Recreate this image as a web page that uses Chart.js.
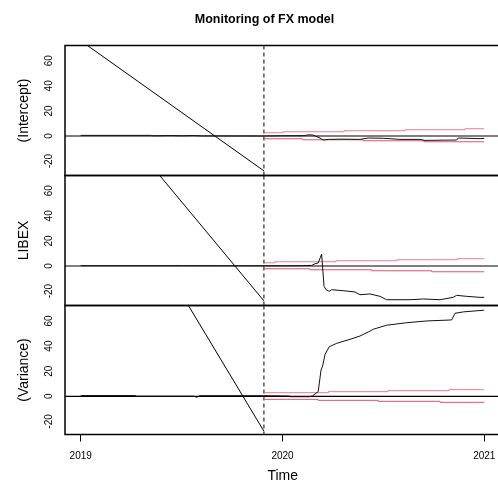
<!DOCTYPE html>
<html>
<head>
<meta charset="utf-8">
<title>Monitoring of FX model</title>
<script src="https://cdn.jsdelivr.net/npm/chart.js@4.4.1/dist/chart.umd.min.js"></script>
<style>
  html, body { margin: 0; padding: 0; background: #fff; overflow: hidden; }
  #wrap { position: relative; width: 498px; height: 485px; overflow: hidden; }
  #wrap canvas { position: absolute; left: 0; top: 0; }
</style>
</head>
<body>
<div id="wrap">
  <canvas id="panel0" width="506" height="485"></canvas>
  <canvas id="panel1" width="506" height="485"></canvas>
  <canvas id="panel2" width="506" height="485"></canvas>
</div>
<script>
const FONT = "'Liberation Sans', Arial, Helvetica, sans-serif";
Chart.defaults.font.family = FONT;
Chart.defaults.color = '#000';

// axes
const years = [2019, 2020, 2021];
const yTickValues = [-20, 0, 20, 40, 60];
const panelNames = ['(Intercept)', 'LIBEX', '(Variance)'];
const xMin = 2018.922, xMax = 2021.08;
const yMin = [-31.5, -31.5, -30.4];
const yMax = [72.2, 72.2, 72.3];

// start of monitoring period and the straight line drawn up to it
const breakTime = 2019.908;
const diagTime = [2019, breakTime];
const diagStart = [76, 148, 215];
const diagEnd = -27.8;

// empirical fluctuation process, one series per coefficient
const interceptTime = [2019, 2019.35, 2019.36, 2019.45, 2019.5, 2019.56, 2019.6, 2019.9, 2020.0, 2020.112, 2020.128, 2020.15, 2020.186, 2020.202, 2020.227, 2020.3, 2020.384, 2020.425, 2020.5, 2020.582, 2020.681, 2020.706, 2020.8, 2020.863, 2020.871, 2020.979, 2021];
const interceptValue = [0.5, 0.5, 0.2, 0.4, 0.2, 0.4, 0.1, 0.0, 0.2, 0.3, 1.0, 0.8, -1.6, -3.2, -2.7, -2.5, -2.7, -1.6, -1.8, -2.7, -2.7, -3.5, -3.3, -3.2, -1.6, -2.1, -1.9];

const libexTime = [2019, 2019.5, 2019.908, 2020.0, 2020.1, 2020.145, 2020.161, 2020.177, 2020.194, 2020.206, 2020.216, 2020.232, 2020.244, 2020.301, 2020.359, 2020.384, 2020.434, 2020.483, 2020.516, 2020.632, 2020.698, 2020.781, 2020.846, 2020.863, 2020.913, 2020.979, 2021];
const libexValue = [0.3, 0.3, 0.2, 0.2, 0.3, 0.5, 1.8, 2.4, 9.5, -16.3, -18.9, -20.2, -18.9, -19.7, -20.7, -22.9, -22.3, -24.2, -26.9, -26.9, -26.3, -26.9, -25.0, -23.4, -24.2, -25.0, -25.0];

const varianceTime = [2019, 2019.269, 2019.27, 2019.56, 2019.575, 2019.59, 2019.908, 2020.037, 2020.04, 2020.136, 2020.15, 2020.177, 2020.191, 2020.199, 2020.211, 2020.232, 2020.269, 2020.335, 2020.384, 2020.425, 2020.45, 2020.516, 2020.615, 2020.715, 2020.838, 2020.855, 2020.896, 2020.995, 2021];
const varianceValue = [0.6, 0.6, 0.1, 0.1, -0.8, 0.5, 0.5, 0.2, -0.3, -0.3, 0.5, 3.7, 21, 24.1, 33.5, 39.5, 42.2, 45.4, 48, 51.2, 53.4, 56.6, 58.6, 60, 60.8, 66.1, 67.2, 68.5, 68.5];

const processTime = [interceptTime, libexTime, varianceTime];
const processValue = [interceptValue, libexValue, varianceValue];

// boundaries (step functions)
const upperTime = [
  [2019.908, 2020.004, 2020.305, 2020.607, 2020.904, 2021],
  [2019.908, 2019.963, 2020.265, 2020.566, 2020.866, 2021],
  [2019.908, 2020.227, 2020.523, 2020.825, 2021]
];
const upperValue = [
  [2.6, 3.4, 4.2, 5.0, 5.8, 5.8],
  [2.6, 3.4, 4.2, 5.0, 5.8, 5.8],
  [2.9, 3.7, 4.5, 5.3, 5.3]
];
const lowerTime = [
  [2019.908, 2020.098, 2020.399, 2020.701, 2021],
  [2019.908, 2020.136, 2020.442, 2020.739, 2021],
  [2019.908, 2020.176, 2020.474, 2020.781, 2021]
];
const lowerValue = [
  [-2.2, -3.0, -3.8, -4.6, -4.6],
  [-2.2, -3.0, -3.8, -4.6, -4.6],
  [-2.4, -3.2, -4.0, -4.8, -4.8]
];

const panelTop = [45.5, 175.5, 305.5];
const panelBottom = [175.5, 305.5, 434.5];

function pts(ts, vs) {
  return ts.map((t, i) => ({ x: t, y: vs[i] }));
}

// rotated y tick labels, panel box and main title
const panelDecor = {
  id: 'panelDecor',
  afterDraw(chart, args, opts) {
    const { ctx, chartArea: a } = chart;
    const y = chart.scales.y;
    ctx.save();
    ctx.fillStyle = '#000';
    ctx.font = '10px ' + FONT;
    ctx.textAlign = 'center';
    ctx.textBaseline = 'middle';
    yTickValues.forEach(v => {
      ctx.save();
      ctx.translate(49, y.getPixelForValue(v));
      ctx.rotate(-Math.PI / 2);
      ctx.fillText(String(v), 0, 0);
      ctx.restore();
    });
    ctx.strokeStyle = '#000';
    ctx.lineWidth = 1.5;
    ctx.strokeRect(a.left, a.top, a.right - a.left, a.bottom - a.top);
    if (opts.title) {
      ctx.font = 'bold 12.5px ' + FONT;
      ctx.textBaseline = 'alphabetic';
      ctx.fillText(opts.title, 264.5, 22.5);
    }
    ctx.restore();
  }
};

panelNames.forEach((name, i) => {
  const last = i === panelNames.length - 1;
  new Chart(document.getElementById('panel' + i), {
    type: 'line',
    data: {
      datasets: [
        { data: pts(processTime[i], processValue[i]), borderColor: '#111', borderWidth: 1 },
        { data: pts(upperTime[i], upperValue[i]), borderColor: 'rgba(223,83,107,0.75)', borderWidth: 1, stepped: true },
        { data: pts(lowerTime[i], lowerValue[i]), borderColor: '#DF536B', borderWidth: 1, stepped: true },
        { data: [{ x: xMin, y: 0 }, { x: xMax, y: 0 }], borderColor: '#000', borderWidth: 1.2 },
        { data: pts(diagTime, [diagStart[i], diagEnd]), borderColor: '#000', borderWidth: 1 },
        { data: [{ x: breakTime, y: yMax[i] }, { x: breakTime, y: yMin[i] }], borderColor: '#000', borderWidth: 1, borderDash: [4, 3] }
      ]
    },
    options: {
      responsive: false,
      animation: false,
      events: [],
      layout: {
        padding: { left: 0, right: 506 - 500.4, top: panelTop[i], bottom: last ? 0 : 485 - panelBottom[i] }
      },
      elements: { point: { radius: 0 }, line: { tension: 0 } },
      plugins: {
        legend: { display: false },
        tooltip: { enabled: false },
        panelDecor: { title: i === 0 ? 'Monitoring of FX model' : '' }
      },
      scales: {
        x: {
          type: 'linear',
          min: xMin,
          max: xMax,
          display: last,
          afterBuildTicks: s => { s.ticks = years.map(v => ({ value: v })); },
          afterFit: s => { if (last) s.height = 50.5; },
          grid: { drawOnChartArea: false, drawTicks: true, tickLength: 7, color: '#000', lineWidth: 1 },
          border: { display: false },
          ticks: { font: { size: 10 }, color: '#000', padding: 9, maxRotation: 0, autoSkip: false, callback: v => String(v) },
          title: { display: true, text: 'Time', font: { size: 14 }, padding: { top: 0, bottom: 0.4 } }
        },
        y: {
          type: 'linear',
          min: yMin[i],
          max: yMax[i],
          afterBuildTicks: s => { s.ticks = yTickValues.map(v => ({ value: v })); },
          afterFit: s => { s.width = 65; },
          grid: { display: false },
          border: { display: false },
          ticks: { display: false },
          title: { display: true, text: name, font: { size: 14 }, padding: { top: 16, bottom: 0 } }
        }
      }
    },
    plugins: [panelDecor]
  });
});
</script>
</body>
</html>
